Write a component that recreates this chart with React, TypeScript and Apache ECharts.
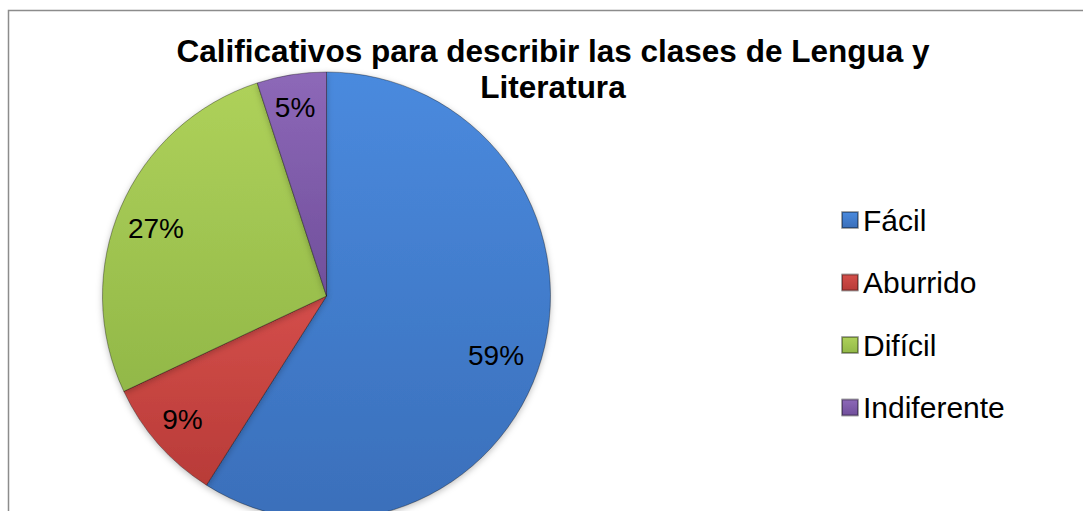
import React, { useEffect, useRef } from "react";
import * as echarts from "echarts";

const titleText = "Calificativos para describir las clases de Lengua y\nLiteratura";
const categories = ["Fácil", "Aburrido", "Difícil", "Indiferente"];
const percentages = [59, 9, 27, 5];
const colorStops = [
  ["#4a8ade", "#3a6fba"],
  ["#d44e4a", "#b83b38"],
  ["#aed15a", "#92b848"],
  ["#8d68b8", "#704f9b"],
];
// small label nudges to mimic the spreadsheet's label placement
const labelNudges = [
  [-11, 7],
  [-3, -1],
  [2, 7],
  [-2, -3],
];

export default function App() {
  const ref = useRef<HTMLDivElement>(null);
  useEffect(() => {
    if (!ref.current) return;
    const chart = echarts.init(ref.current, null, { renderer: "svg" });
    const font = "'Liberation Sans', Arial, sans-serif";
    const grad = (i: number) =>
      new echarts.graphic.LinearGradient(0, 0, 0, 1, [
        { offset: 0, color: colorStops[i][0] },
        { offset: 1, color: colorStops[i][1] },
      ]);
    const mainData = categories.map((name, i) => ({
      name,
      value: percentages[i],
      itemStyle: { color: grad(i) },
    }));
    const labelData = categories.map((name, i) => ({
      name,
      value: percentages[i],
      label: { offset: labelNudges[i] },
    }));
    chart.setOption({
      animation: false,
      title: {
        text: titleText,
        left: 553,
        top: 33,
        padding: 0,
        textAlign: "center",
        textStyle: {
          fontFamily: font,
          fontSize: 31.5,
          fontWeight: "bold",
          color: "#000",
          lineHeight: 36,
        },
      },
      legend: {
        orient: "vertical",
        left: 841,
        top: 204,
        padding: 0,
        icon: "rect",
        itemWidth: 16,
        itemHeight: 16,
        itemGap: 30.5,
        data: categories,
        selectedMode: false,
        textStyle: { fontFamily: font, fontSize: 30, color: "#000", lineHeight: 32 },
      },
      graphic: [
        {
          type: "rect",
          z: -10,
          shape: { x: 8.5, y: 10.5, width: 1200, height: 700 },
          style: { fill: "none", stroke: "#8c8c8c", lineWidth: 1.5 },
        },
      ],
      series: [
        {
          type: "pie",
          center: [326.5, 296],
          radius: [0, 224],
          startAngle: 90,
          clockwise: true,
          label: { show: false },
          labelLine: { show: false },
          emphasis: { disabled: true },
          silent: true,
          itemStyle: {
            borderColor: "rgba(0,0,0,0.35)",
            borderWidth: 1,
            shadowBlur: 6,
            shadowColor: "rgba(0,0,0,0.25)",
            shadowOffsetY: 2,
          },
          data: mainData,
        },
        {
          type: "pie",
          center: [326.5, 296],
          radius: [166, 204],
          startAngle: 90,
          clockwise: true,
          silent: true,
          emphasis: { disabled: true },
          itemStyle: { color: "rgba(0,0,0,0)" },
          labelLine: { show: false },
          label: {
            show: true,
            position: "inside",
            formatter: "{c}%",
            fontFamily: font,
            fontSize: 28,
            color: "#000",
          },
          data: labelData,
        },
      ],
    });
    return () => chart.dispose();
  }, []);
  return (
    <div
      ref={ref}
      style={{ position: "fixed", left: 0, top: 0, width: 1083, height: 511, background: "#fff" }}
    />
  );
}
